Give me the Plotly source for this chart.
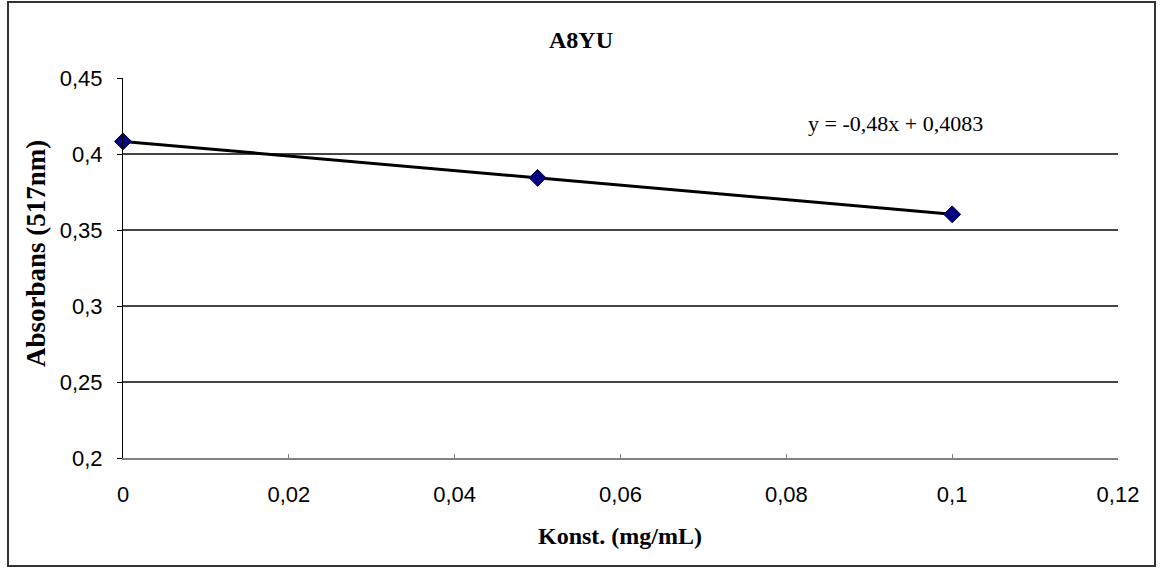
import plotly.graph_objects as go

# Data
konst = [0, 0.05, 0.1]
absorbans = [0.4083, 0.3843, 0.3603]

x_tickvals = [0, 0.02, 0.04, 0.06, 0.08, 0.1, 0.12]
x_ticktext = ["0", "0,02", "0,04", "0,06", "0,08", "0,1", "0,12"]
y_tickvals = [0.2, 0.25, 0.3, 0.35, 0.4, 0.45]
y_ticktext = ["0,2", "0,25", "0,3", "0,35", "0,4", "0,45"]

title_text = "A8YU"
x_title = "Konst. (mg/mL)"
y_title = "Absorbans (517nm)"
equation = "y = -0,48x + 0,4083"

W, H = 1160, 569
L, R, T, B = 123, 1118, 78, 458

def px(xp):
    return (xp - L) / (R - L)

def py(yp):
    return (B - yp) / (B - T)

serif = "Liberation Serif, Times New Roman, serif"
sans = "Liberation Sans, Arial, sans-serif"

fig = go.Figure()
fig.add_trace(go.Scatter(
    x=konst, y=absorbans, mode="lines+markers",
    line=dict(color="black", width=3),
    marker=dict(symbol="diamond", size=13, color="#000080",
                line=dict(color="#000040", width=1)),
    cliponaxis=False,
    showlegend=False, hoverinfo="x+y",
))

fig.update_layout(
    width=W, height=H,
    margin=dict(l=L, r=W - R, t=T, b=H - B, pad=0),
    paper_bgcolor="white", plot_bgcolor="white",
    showlegend=False,
    title=dict(text="<b>" + title_text + "</b>", x=581 / W, xref="container",
               xanchor="center", y=1 - 40 / H, yanchor="middle",
               font=dict(family=serif, size=24, color="black")),
    xaxis=dict(range=[0, 0.12], tickvals=x_tickvals, ticktext=x_ticktext,
               showgrid=False, zeroline=False,
               showline=True, linecolor="#808080", linewidth=2,
               ticks="inside", ticklen=4, tickcolor="#808080", tickwidth=1,
               ticklabelstandoff=16,
               tickfont=dict(family=sans, size=22, color="black")),
    yaxis=dict(range=[0.2, 0.45], tickvals=y_tickvals, ticktext=y_ticktext,
               showgrid=True, gridcolor="#454545", gridwidth=1.5,
               zeroline=False,
               showline=True, linecolor="black", linewidth=1,
               ticks="outside", ticklen=5, tickcolor="black", tickwidth=1,
               ticklabelstandoff=10,
               tickfont=dict(family=sans, size=22, color="black")),
    annotations=[
        dict(text="<b>" + x_title + "</b>", x=px(620), y=py(536), xref="paper", yref="paper",
             xanchor="center", yanchor="middle", showarrow=False,
             font=dict(family=serif, size=24, color="black")),
        dict(text="<b>" + y_title + "</b>", x=px(36), y=py(254), xref="paper", yref="paper",
             xanchor="center", yanchor="middle", showarrow=False, textangle=-90,
             font=dict(family=serif, size=27, color="black")),
        dict(text=equation, x=px(895), y=py(123), xref="paper", yref="paper",
             xanchor="center", yanchor="middle", showarrow=False,
             font=dict(family=serif, size=22, color="black")),
    ],
    shapes=[
        dict(type="rect", xref="paper", yref="paper",
             x0=px(8), x1=px(1155), y0=py(566), y1=py(2),
             line=dict(color="#333333", width=2), fillcolor="rgba(0,0,0,0)", layer="below"),
    ],
)

fig.write_html("out.html")
